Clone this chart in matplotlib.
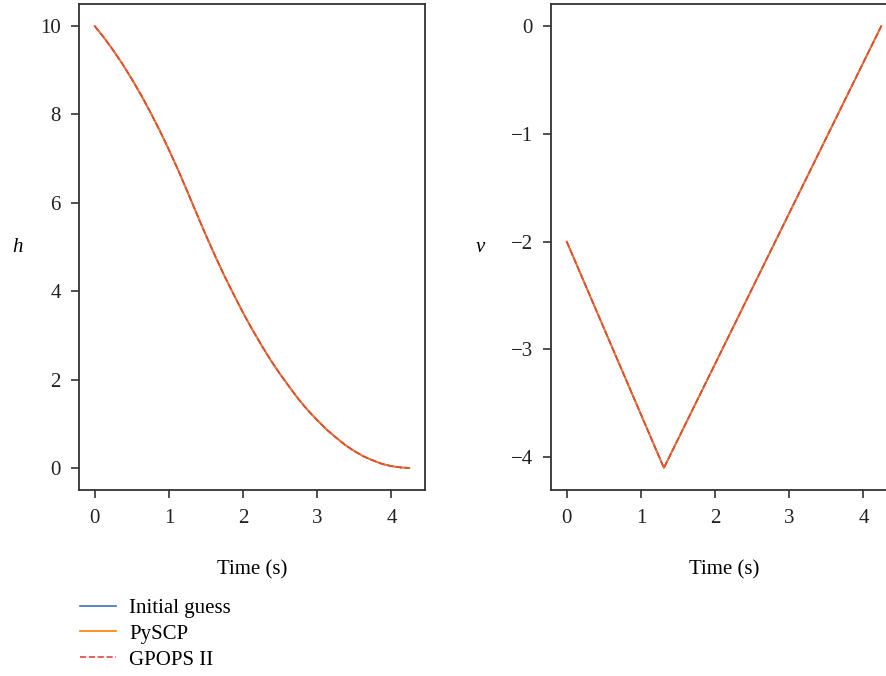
import matplotlib
matplotlib.use("Agg")
import matplotlib.pyplot as plt

# altitude and velocity histories of the landing problem
t_h = [0.0, 0.125, 0.25, 0.375, 0.5, 0.625, 0.75, 0.875, 1.0, 1.125,
       1.25, 1.31, 1.375, 1.5, 1.625, 1.75, 1.875, 2.0, 2.125, 2.25,
       2.375, 2.5, 2.625, 2.75, 2.875, 3.0, 3.125, 3.25, 3.375, 3.5,
       3.625, 3.75, 3.875, 4.0, 4.125, 4.24]
h_vals = [10.0, 9.74, 9.45, 9.14, 8.8, 8.44, 8.05, 7.64, 7.2, 6.74,
          6.25, 6.01, 5.75, 5.26, 4.79, 4.34, 3.92, 3.51, 3.13, 2.77,
          2.43, 2.12, 1.83, 1.55, 1.30, 1.08, 0.87, 0.69, 0.52, 0.38,
          0.26, 0.17, 0.09, 0.04, 0.01, 0.0]
t_v = [0.0, 1.31, 4.24]
v_vals = [-2.0, -4.1, 0.0]

series = ["Initial guess", "PySCP", "GPOPS II"]
colors = ["#3b6fb6", "#ff8000", "#e8453c"]
styles = ["-", "-", "--"]

plt.rcParams["font.family"] = ["Liberation Serif", "DejaVu Serif"]
plt.rcParams["font.size"] = 15
plt.rcParams["axes.edgecolor"] = "#333333"
plt.rcParams["xtick.color"] = "#333333"
plt.rcParams["ytick.color"] = "#333333"
plt.rcParams["xtick.labelcolor"] = "#222222"
plt.rcParams["ytick.labelcolor"] = "#222222"

W, H = 886, 676
fig = plt.figure(figsize=(W / 100, H / 100), dpi=100)
ax_h = fig.add_axes([79 / W, 1 - 490 / H, 346 / W, 486 / H])
ax_v = fig.add_axes([551 / W, 1 - 490 / H, 346 / W, 486 / H])

for name, c, ls in zip(series, colors, styles):
    ax_h.plot(t_h, h_vals, color=c, linestyle=ls, linewidth=1.2, label=name)
    ax_v.plot(t_v, v_vals, color=c, linestyle=ls, linewidth=1.2)

ax_h.set_yticks([0, 2, 4, 6, 8, 10])
ax_v.set_yticks([0, -1, -2, -3, -4])
ax_v.set_yticklabels(["0", "\u22121", "\u22122", "\u22123", "\u22124"])

for ax, lab, lx in [(ax_h, "h", -0.179), (ax_v, "v", -0.205)]:
    ax.set_xticks([0, 1, 2, 3, 4])
    ax.set_xlabel("Time (s)")
    ax.xaxis.set_label_coords(0.5, -0.144)
    ax.set_ylabel(lab, rotation=0, style="italic", va="center", ha="center")
    ax.yaxis.set_label_coords(lx, 0.5)
    ax.tick_params(direction="out", length=6, width=1.2, pad=8)
    ax.tick_params(axis="y", pad=7)
    for sp in ax.spines.values():
        sp.set_linewidth(1.3)

fig.legend(loc="upper left", bbox_to_anchor=(72 / W, 1 - 590 / H),
           frameon=False, handlelength=1.7, handletextpad=0.65,
           labelspacing=0.3, borderaxespad=0)

fig.savefig("out.png", dpi=100)
